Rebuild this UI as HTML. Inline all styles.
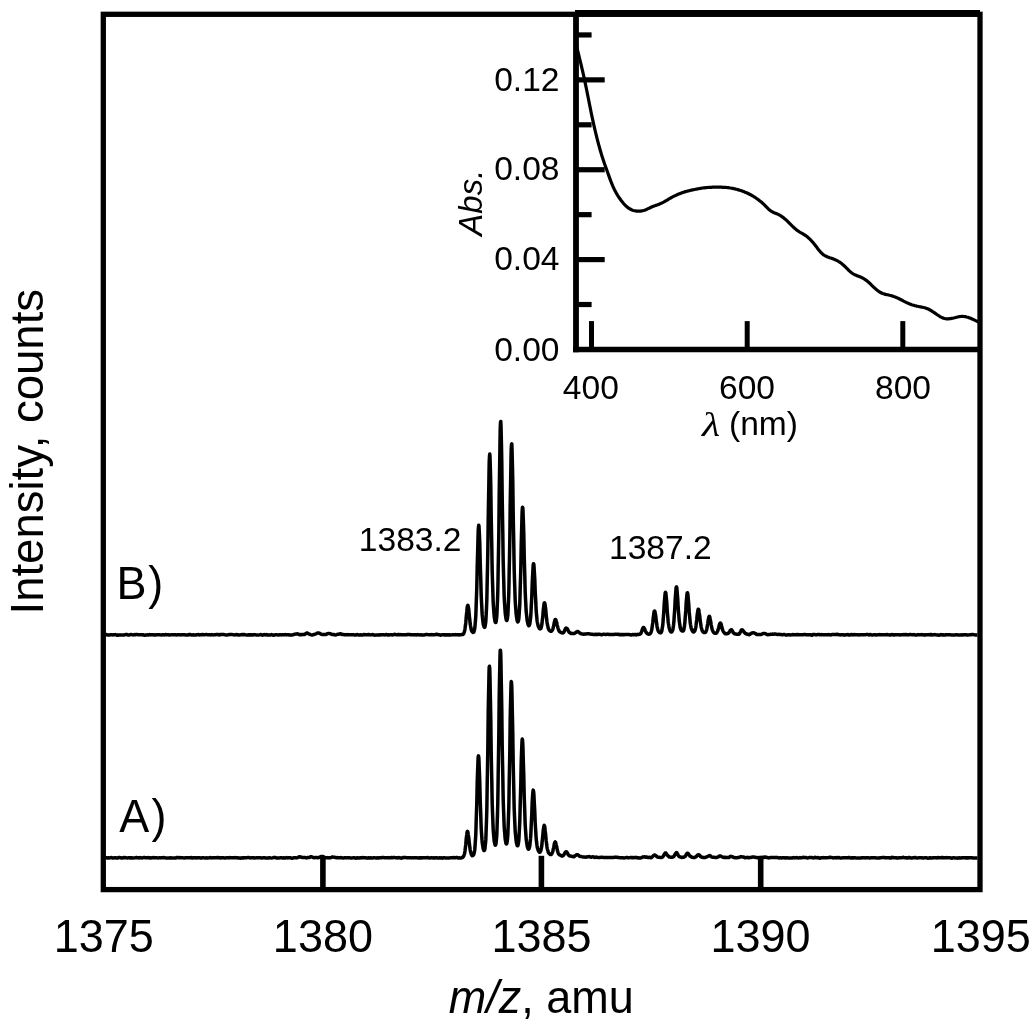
<!DOCTYPE html>
<html lang="en">
<head>
<meta charset="utf-8">
<title>Mass spectrum with absorbance inset</title>
<style>
  html, body { margin: 0; padding: 0; background: #ffffff; }
  body { width: 1035px; height: 1028px; overflow: hidden; }
  svg { display: block; }
  text { font-family: "Liberation Sans", sans-serif; fill: #000; }
  .big { font-size: 45px; }
  .mid { font-size: 33.6px; }
  .abs { font-size: 33px; }
  .it { font-style: italic; }
  .lam { font-family: "Liberation Serif", "DejaVu Serif", serif; font-style: italic; font-size: 36px; }
</style>
</head>
<body>
<svg width="1035" height="1028" viewBox="0 0 1035 1028">
  <rect x="0" y="0" width="1035" height="1028" fill="#ffffff"/>

  <!-- main frame -->
  <g fill="none" stroke="#000" stroke-linecap="butt" stroke-linejoin="miter">
    <rect x="103.3" y="14.3" width="876.7" height="875.3" stroke-width="5.3"/>
    <!-- thicker top edge above inset -->
    <line x1="575" y1="13.2" x2="980" y2="13.2" stroke-width="6.6"/>
    <!-- inset axes -->
    <line x1="576" y1="12" x2="576" y2="352.2" stroke-width="5.8"/>
    <line x1="573.1" y1="349.45" x2="980" y2="349.45" stroke-width="5.5"/>
  </g>

  <!-- inset ticks -->
  <g fill="none" stroke="#000" stroke-width="5.2" stroke-linecap="butt">
    <line x1="576" y1="304.52" x2="591.6" y2="304.52"/>
    <line x1="576" y1="259.59" x2="604.7" y2="259.59"/>
    <line x1="576" y1="214.66" x2="591.6" y2="214.66"/>
    <line x1="576" y1="169.73" x2="604.7" y2="169.73"/>
    <line x1="576" y1="124.80" x2="591.6" y2="124.80"/>
    <line x1="576" y1="79.87" x2="604.7" y2="79.87"/>
    <line x1="576" y1="34.94" x2="591.6" y2="34.94"/>
  </g>
  <g fill="none" stroke="#000" stroke-width="5" stroke-linecap="butt">
    <line x1="591.5" y1="349" x2="591.5" y2="321.1"/>
    <line x1="747.2" y1="349" x2="747.2" y2="321.1"/>
    <line x1="902.8" y1="349" x2="902.8" y2="321.1"/>
  </g>

  <!-- main x ticks -->
  <g fill="none" stroke="#000" stroke-width="5.6" stroke-linecap="butt">
    <line x1="322.9" y1="889" x2="322.9" y2="855.8"/>
    <line x1="541.4" y1="889" x2="541.4" y2="855.8"/>
    <line x1="760.7" y1="889" x2="760.7" y2="855.8"/>
  </g>

  <!-- inset absorbance curve -->
  <path d="M575.6,42.0 L576.6,46.3 L577.6,50.4 L578.6,54.5 L579.6,58.6 L580.6,62.7 L581.6,66.9 L582.6,71.1 L583.6,75.5 L584.6,80.1 L585.6,84.8 L586.6,89.7 L587.6,94.7 L588.6,99.8 L589.6,104.8 L590.6,109.8 L591.6,114.7 L592.6,119.4 L593.6,123.9 L594.6,128.3 L595.6,132.5 L596.6,136.6 L597.6,140.6 L598.6,144.4 L599.6,148.0 L600.6,151.5 L601.6,154.9 L602.6,158.1 L603.6,161.1 L604.6,164.0 L605.6,166.8 L606.6,169.5 L607.6,172.3 L608.6,175.1 L609.6,177.9 L610.6,180.6 L611.6,183.2 L612.6,185.6 L613.6,187.8 L614.6,189.9 L615.6,191.8 L616.6,193.6 L617.6,195.3 L618.6,196.8 L619.6,198.3 L620.6,199.7 L621.6,201.1 L622.6,202.3 L623.6,203.5 L624.6,204.6 L625.6,205.6 L626.6,206.6 L627.6,207.4 L628.6,208.1 L629.6,208.8 L630.6,209.3 L631.6,209.8 L632.6,210.2 L633.6,210.5 L634.6,210.7 L635.6,210.9 L636.6,211.1 L637.6,211.1 L638.6,211.2 L639.6,211.2 L640.6,211.1 L641.6,210.9 L642.6,210.7 L643.6,210.5 L644.6,210.2 L645.6,209.8 L646.6,209.4 L647.6,208.9 L648.6,208.4 L649.6,208.0 L650.6,207.5 L651.6,207.0 L652.6,206.6 L653.6,206.2 L654.6,205.8 L655.6,205.5 L656.6,205.1 L657.6,204.8 L658.6,204.4 L659.6,204.0 L660.6,203.6 L661.6,203.1 L662.6,202.6 L663.6,202.1 L664.6,201.5 L665.6,201.0 L666.6,200.4 L667.6,199.8 L668.6,199.2 L669.6,198.6 L670.6,198.0 L671.6,197.5 L672.6,196.9 L673.6,196.4 L674.6,195.9 L675.6,195.4 L676.6,195.0 L677.6,194.5 L678.6,194.1 L679.6,193.7 L680.6,193.3 L681.6,192.9 L682.6,192.6 L683.6,192.2 L684.6,191.9 L685.6,191.6 L686.6,191.3 L687.6,191.1 L688.6,190.8 L689.6,190.6 L690.6,190.3 L691.6,190.1 L692.6,189.9 L693.6,189.7 L694.6,189.5 L695.6,189.3 L696.6,189.1 L697.6,188.9 L698.6,188.7 L699.6,188.5 L700.6,188.3 L701.6,188.2 L702.6,188.0 L703.6,187.9 L704.6,187.8 L705.6,187.7 L706.6,187.6 L707.6,187.5 L708.6,187.4 L709.6,187.4 L710.6,187.3 L711.6,187.3 L712.6,187.2 L713.6,187.2 L714.6,187.2 L715.6,187.2 L716.6,187.2 L717.6,187.2 L718.6,187.2 L719.6,187.2 L720.6,187.2 L721.6,187.2 L722.6,187.3 L723.6,187.3 L724.6,187.4 L725.6,187.4 L726.6,187.5 L727.6,187.6 L728.6,187.7 L729.6,187.9 L730.6,188.0 L731.6,188.2 L732.6,188.4 L733.6,188.6 L734.6,188.8 L735.6,189.1 L736.6,189.3 L737.6,189.6 L738.6,189.9 L739.6,190.2 L740.6,190.5 L741.6,190.8 L742.6,191.2 L743.6,191.6 L744.6,192.0 L745.6,192.4 L746.6,192.8 L747.6,193.3 L748.6,193.8 L749.6,194.3 L750.6,194.8 L751.6,195.3 L752.6,195.9 L753.6,196.5 L754.6,197.1 L755.6,197.8 L756.6,198.5 L757.6,199.2 L758.6,199.9 L759.6,200.7 L760.6,201.5 L761.6,202.3 L762.6,203.2 L763.6,204.1 L764.6,205.1 L765.6,206.1 L766.6,207.2 L767.6,208.2 L768.6,209.2 L769.6,210.0 L770.6,210.8 L771.6,211.4 L772.6,212.0 L773.6,212.5 L774.6,212.9 L775.6,213.3 L776.6,213.7 L777.6,214.1 L778.6,214.6 L779.6,215.1 L780.6,215.7 L781.6,216.4 L782.6,217.1 L783.6,217.8 L784.6,218.7 L785.6,219.5 L786.6,220.4 L787.6,221.4 L788.6,222.4 L789.6,223.4 L790.6,224.4 L791.6,225.4 L792.6,226.4 L793.6,227.3 L794.6,228.2 L795.6,229.1 L796.6,229.9 L797.6,230.7 L798.6,231.3 L799.6,232.0 L800.6,232.6 L801.6,233.1 L802.6,233.7 L803.6,234.3 L804.6,234.9 L805.6,235.6 L806.6,236.3 L807.6,237.1 L808.6,238.0 L809.6,238.9 L810.6,239.9 L811.6,241.0 L812.6,242.1 L813.6,243.3 L814.6,244.5 L815.6,245.8 L816.6,247.1 L817.6,248.4 L818.6,249.7 L819.6,250.9 L820.6,252.1 L821.6,253.1 L822.6,254.1 L823.6,254.9 L824.6,255.5 L825.6,256.1 L826.6,256.5 L827.6,257.0 L828.6,257.3 L829.6,257.7 L830.6,258.0 L831.6,258.3 L832.6,258.7 L833.6,259.1 L834.6,259.5 L835.6,259.9 L836.6,260.4 L837.6,260.9 L838.6,261.5 L839.6,262.1 L840.6,262.8 L841.6,263.6 L842.6,264.4 L843.6,265.3 L844.6,266.2 L845.6,267.2 L846.6,268.2 L847.6,269.2 L848.6,270.2 L849.6,271.1 L850.6,272.0 L851.6,272.8 L852.6,273.5 L853.6,274.1 L854.6,274.6 L855.6,275.1 L856.6,275.5 L857.6,275.9 L858.6,276.3 L859.6,276.7 L860.6,277.1 L861.6,277.5 L862.6,278.0 L863.6,278.6 L864.6,279.2 L865.6,279.9 L866.6,280.6 L867.6,281.4 L868.6,282.3 L869.6,283.2 L870.6,284.2 L871.6,285.2 L872.6,286.1 L873.6,287.1 L874.6,288.0 L875.6,288.9 L876.6,289.8 L877.6,290.6 L878.6,291.3 L879.6,292.0 L880.6,292.5 L881.6,293.0 L882.6,293.5 L883.6,293.8 L884.6,294.1 L885.6,294.4 L886.6,294.6 L887.6,294.8 L888.6,295.0 L889.6,295.3 L890.6,295.5 L891.6,295.8 L892.6,296.1 L893.6,296.5 L894.6,296.8 L895.6,297.2 L896.6,297.6 L897.6,298.1 L898.6,298.5 L899.6,299.0 L900.6,299.5 L901.6,300.0 L902.6,300.5 L903.6,301.1 L904.6,301.6 L905.6,302.1 L906.6,302.6 L907.6,303.1 L908.6,303.5 L909.6,303.9 L910.6,304.3 L911.6,304.7 L912.6,305.0 L913.6,305.3 L914.6,305.6 L915.6,305.8 L916.6,306.1 L917.6,306.3 L918.6,306.5 L919.6,306.7 L920.6,306.9 L921.6,307.1 L922.6,307.3 L923.6,307.5 L924.6,307.7 L925.6,308.0 L926.6,308.4 L927.6,308.8 L928.6,309.2 L929.6,309.8 L930.6,310.3 L931.6,310.9 L932.6,311.6 L933.6,312.2 L934.6,312.9 L935.6,313.6 L936.6,314.3 L937.6,315.0 L938.6,315.6 L939.6,316.3 L940.6,316.9 L941.6,317.4 L942.6,317.9 L943.6,318.2 L944.6,318.5 L945.6,318.7 L946.6,318.8 L947.6,318.9 L948.6,318.8 L949.6,318.7 L950.6,318.6 L951.6,318.4 L952.6,318.2 L953.6,318.0 L954.6,317.7 L955.6,317.5 L956.6,317.2 L957.6,317.0 L958.6,316.8 L959.6,316.6 L960.6,316.5 L961.6,316.4 L962.6,316.4 L963.6,316.5 L964.6,316.6 L965.6,316.7 L966.6,317.0 L967.6,317.2 L968.6,317.6 L969.6,317.9 L970.6,318.3 L971.6,318.7 L972.6,319.2 L973.6,319.6 L974.6,320.1 L975.6,320.6 L976.6,321.1 L977.6,321.6 L978.6,322.1" fill="none" stroke="#000" stroke-width="3.2" stroke-linejoin="round" stroke-linecap="butt"/>

  <!-- spectrum B -->
  <path d="M105.5,634.7 L106.5,634.5 L107.5,634.9 L108.5,635.0 L109.5,635.0 L110.5,634.8 L111.5,634.7 L112.5,634.9 L113.5,634.8 L114.5,634.8 L115.5,634.6 L116.5,635.0 L117.5,635.3 L118.5,635.0 L119.5,634.9 L120.5,634.9 L121.5,635.1 L122.5,635.0 L123.5,635.0 L124.5,634.9 L125.5,634.5 L126.5,634.5 L127.5,634.8 L128.5,635.1 L129.5,635.0 L130.5,634.6 L131.5,634.6 L132.5,634.8 L133.5,634.9 L134.5,634.6 L135.5,634.7 L136.5,634.5 L137.5,634.6 L138.5,634.8 L139.5,634.8 L140.5,634.8 L141.5,634.8 L142.5,634.7 L143.5,635.1 L144.5,635.2 L145.5,635.0 L146.5,634.9 L147.5,634.8 L148.5,634.9 L149.5,634.5 L150.5,634.9 L151.5,634.7 L152.5,634.7 L153.5,634.9 L154.5,634.8 L155.5,634.9 L156.5,634.8 L157.5,634.7 L158.5,634.7 L159.5,634.7 L160.5,634.9 L161.5,635.1 L162.5,634.8 L163.5,634.8 L164.5,634.9 L165.5,634.5 L166.5,634.7 L167.5,634.8 L168.5,634.8 L169.5,635.1 L170.5,634.9 L171.5,634.7 L172.5,634.7 L173.5,634.7 L174.5,634.7 L175.5,634.8 L176.5,634.9 L177.5,634.8 L178.5,634.8 L179.5,634.7 L180.5,634.9 L181.5,634.8 L182.5,634.7 L183.5,634.8 L184.5,634.8 L185.5,634.9 L186.5,634.9 L187.5,635.1 L188.5,634.8 L189.5,634.5 L190.5,634.6 L191.5,635.0 L192.5,635.1 L193.5,634.8 L194.5,634.9 L195.5,635.1 L196.5,634.8 L197.5,634.7 L198.5,634.5 L199.5,634.9 L200.5,634.8 L201.5,634.7 L202.5,634.5 L203.5,634.7 L204.5,634.8 L205.5,634.6 L206.5,634.6 L207.5,634.7 L208.5,634.7 L209.5,634.8 L210.5,634.9 L211.5,634.6 L212.5,634.8 L213.5,634.9 L214.5,634.7 L215.5,634.7 L216.5,634.5 L217.5,634.5 L218.5,634.8 L219.5,634.9 L220.5,634.4 L221.5,634.5 L222.5,634.4 L223.5,634.4 L224.5,634.6 L225.5,635.0 L226.5,634.9 L227.5,634.9 L228.5,634.7 L229.5,634.5 L230.5,634.6 L231.5,634.6 L232.5,634.6 L233.5,634.8 L234.5,634.9 L235.5,634.7 L236.5,634.6 L237.5,634.7 L238.5,635.0 L239.5,634.9 L240.5,634.8 L241.5,634.7 L242.5,634.4 L243.5,634.7 L244.5,634.5 L245.5,634.9 L246.5,635.1 L247.5,635.1 L248.5,634.8 L249.5,634.7 L250.5,635.0 L251.5,634.8 L252.5,635.0 L253.5,634.8 L254.5,634.6 L255.5,634.8 L256.5,634.9 L257.5,635.1 L258.5,635.1 L259.5,634.9 L260.5,634.6 L261.5,634.7 L262.5,635.2 L263.5,634.7 L264.5,634.6 L265.5,634.9 L266.5,634.6 L267.5,635.1 L268.5,634.9 L269.5,634.9 L270.5,635.0 L271.5,634.5 L272.5,634.9 L273.5,635.2 L274.5,634.9 L275.5,634.8 L276.5,634.7 L277.5,634.9 L278.5,635.1 L279.5,634.8 L280.5,634.7 L281.5,634.9 L282.5,634.8 L283.5,634.7 L284.5,634.7 L285.5,634.6 L286.5,634.8 L287.5,634.8 L288.5,634.7 L289.5,635.1 L290.5,635.0 L291.5,635.0 L292.5,635.0 L293.5,634.6 L294.5,634.3 L295.5,634.1 L296.5,634.1 L297.5,633.8 L298.5,634.2 L299.5,634.7 L300.5,634.5 L301.5,634.7 L302.5,634.5 L303.5,634.5 L304.5,634.5 L305.5,633.8 L306.5,633.0 L307.5,633.1 L308.5,633.8 L309.5,634.2 L310.5,634.6 L311.5,634.9 L312.5,635.0 L313.5,634.5 L314.5,634.4 L315.5,634.0 L316.5,633.6 L317.5,633.0 L318.5,633.0 L319.5,633.2 L320.5,633.9 L321.5,634.3 L322.5,634.6 L323.5,634.6 L324.5,634.5 L325.5,634.5 L326.5,634.2 L327.5,633.6 L328.5,633.4 L329.5,633.6 L330.5,633.7 L331.5,634.4 L332.5,634.6 L333.5,634.5 L334.5,634.8 L335.5,634.9 L336.5,634.8 L337.5,634.3 L338.5,634.2 L339.5,634.0 L340.5,633.8 L341.5,634.1 L342.5,634.6 L343.5,634.5 L344.5,634.7 L345.5,634.7 L346.5,634.7 L347.5,634.6 L348.5,634.8 L349.5,634.8 L350.5,634.7 L351.5,634.8 L352.5,634.7 L353.5,634.8 L354.5,634.9 L355.5,635.0 L356.5,634.7 L357.5,634.6 L358.5,635.0 L359.5,635.0 L360.5,634.8 L361.5,634.9 L362.5,635.0 L363.5,634.5 L364.5,634.8 L365.5,634.6 L366.5,634.8 L367.5,634.8 L368.5,634.4 L369.5,634.7 L370.5,634.9 L371.5,634.7 L372.5,634.6 L373.5,634.8 L374.5,635.2 L375.5,635.1 L376.5,634.9 L377.5,634.9 L378.5,635.1 L379.5,634.8 L380.5,634.9 L381.5,634.7 L382.5,634.8 L383.5,634.7 L384.5,634.9 L385.5,634.8 L386.5,634.5 L387.5,634.9 L388.5,634.8 L389.5,634.9 L390.5,634.7 L391.5,634.8 L392.5,634.9 L393.5,634.7 L394.5,634.2 L395.5,634.6 L396.5,634.8 L397.5,634.8 L398.5,634.5 L399.5,634.7 L400.5,634.6 L401.5,634.8 L402.5,634.8 L403.5,634.7 L404.5,634.9 L405.5,634.7 L406.5,634.8 L407.5,634.5 L408.5,634.5 L409.5,634.5 L410.5,634.8 L411.5,634.8 L412.5,634.7 L413.5,634.9 L414.5,634.7 L415.5,634.8 L416.5,634.9 L417.5,634.6 L418.5,634.8 L419.5,634.9 L420.5,634.7 L421.5,635.0 L422.5,635.0 L423.5,634.9 L424.5,634.9 L425.5,634.6 L426.5,634.6 L427.5,634.6 L428.5,634.8 L429.5,634.8 L430.5,634.8 L431.5,634.6 L432.5,634.7 L433.5,634.8 L434.5,634.8 L435.5,634.6 L436.5,634.2 L437.5,634.6 L438.5,634.7 L439.5,634.8 L440.5,635.2 L441.5,634.9 L442.5,634.7 L443.5,634.8 L444.5,635.0 L445.5,634.7 L446.5,635.1 L447.5,634.8 L448.5,635.0 L449.5,634.8 L450.5,635.1 L451.5,634.9 L452.5,634.7 L453.5,634.7 L454.5,634.7 L455.0,634.7 L455.2,634.7 L455.5,634.6 L455.8,634.7 L456.0,634.7 L456.2,634.8 L456.5,634.8 L456.8,634.8 L457.0,634.8 L457.2,634.8 L457.5,634.8 L457.8,634.7 L458.0,634.7 L458.2,634.7 L458.5,634.7 L458.8,634.8 L459.0,634.8 L459.2,634.9 L459.5,634.9 L459.8,634.8 L460.0,634.8 L460.2,634.7 L460.5,634.7 L460.8,634.7 L461.0,634.7 L461.2,634.7 L461.5,634.6 L461.8,634.6 L462.0,634.6 L462.2,634.6 L462.5,634.6 L462.8,634.5 L463.0,634.4 L463.2,634.2 L463.5,633.8 L463.8,633.4 L464.0,632.9 L464.2,632.2 L464.5,631.3 L464.8,630.2 L465.0,628.8 L465.2,627.1 L465.5,625.1 L465.8,622.7 L466.0,620.2 L466.2,617.3 L466.5,614.5 L466.8,611.7 L467.0,609.2 L467.2,607.2 L467.5,605.8 L467.8,605.3 L468.0,605.5 L468.2,606.4 L468.5,607.9 L468.8,609.9 L469.0,612.3 L469.2,614.8 L469.5,617.4 L469.8,619.8 L470.0,622.0 L470.2,623.9 L470.5,625.6 L470.8,627.1 L471.0,628.4 L471.2,629.5 L471.5,630.5 L471.8,631.1 L472.0,631.5 L472.2,631.8 L472.5,632.1 L472.8,632.3 L473.0,632.4 L473.2,632.4 L473.5,632.3 L473.8,632.0 L474.0,631.5 L474.2,630.7 L474.5,629.7 L474.8,628.1 L475.0,626.1 L475.2,623.5 L475.5,620.1 L475.8,615.8 L476.0,610.4 L476.2,603.9 L476.5,596.1 L476.8,587.2 L477.0,577.4 L477.2,567.0 L477.5,556.6 L477.8,546.6 L478.0,537.9 L478.2,531.1 L478.5,526.7 L478.8,525.2 L479.0,526.4 L479.2,530.1 L479.5,536.1 L479.8,543.8 L480.0,552.7 L480.2,562.1 L480.5,571.5 L480.8,580.4 L481.0,588.5 L481.2,595.6 L481.5,601.8 L481.8,607.0 L482.0,611.3 L482.2,614.9 L482.5,617.9 L482.8,620.3 L483.0,622.3 L483.2,623.8 L483.5,625.1 L483.8,626.0 L484.0,626.7 L484.2,627.2 L484.5,627.4 L484.8,627.2 L485.0,626.6 L485.2,625.4 L485.5,623.7 L485.8,621.4 L486.0,618.1 L486.2,613.8 L486.5,608.1 L486.8,600.8 L487.0,591.7 L487.2,580.6 L487.5,567.6 L487.8,552.8 L488.0,536.5 L488.2,519.5 L488.5,502.5 L488.8,486.6 L489.0,472.9 L489.2,462.4 L489.5,456.0 L489.8,454.1 L490.0,456.7 L490.2,463.3 L490.5,473.5 L490.8,486.5 L491.0,501.2 L491.2,516.7 L491.5,532.1 L491.8,546.6 L492.0,559.9 L492.2,571.5 L492.5,581.5 L492.8,589.9 L493.0,596.8 L493.2,602.5 L493.5,607.1 L493.8,610.8 L494.0,613.9 L494.2,616.4 L494.5,618.4 L494.8,620.1 L495.0,621.3 L495.2,622.1 L495.5,622.5 L495.8,622.5 L496.0,622.0 L496.2,620.9 L496.5,619.1 L496.8,616.4 L497.0,612.5 L497.2,607.3 L497.5,600.4 L497.8,591.6 L498.0,580.7 L498.2,567.4 L498.5,551.8 L498.8,534.1 L499.0,514.8 L499.2,494.7 L499.5,474.8 L499.8,456.5 L500.0,440.9 L500.2,429.4 L500.5,422.7 L500.8,421.5 L501.0,425.5 L501.2,434.2 L501.5,446.8 L501.8,462.3 L502.0,479.7 L502.2,497.8 L502.5,515.7 L502.8,532.6 L503.0,547.9 L503.2,561.4 L503.5,572.9 L503.8,582.6 L504.0,590.6 L504.2,597.1 L504.5,602.4 L504.8,606.6 L505.0,610.0 L505.2,612.9 L505.5,615.3 L505.8,617.2 L506.0,618.6 L506.2,619.7 L506.5,620.3 L506.8,620.5 L507.0,620.3 L507.2,619.4 L507.5,617.9 L507.8,615.4 L508.0,612.0 L508.2,607.2 L508.5,601.0 L508.8,592.9 L509.0,582.9 L509.2,570.7 L509.5,556.5 L509.8,540.5 L510.0,523.1 L510.2,505.3 L510.5,487.9 L510.8,472.2 L511.0,459.0 L511.2,449.4 L511.5,444.3 L511.8,443.9 L512.0,448.1 L512.2,456.4 L512.5,468.1 L512.8,482.3 L513.0,498.0 L513.2,514.2 L513.5,530.1 L513.8,545.0 L514.0,558.4 L514.2,570.0 L514.5,579.9 L514.8,588.1 L515.0,595.0 L515.2,600.6 L515.5,605.2 L515.8,609.0 L516.0,612.0 L516.2,614.6 L516.5,616.7 L516.8,618.5 L517.0,619.9 L517.2,620.9 L517.5,621.6 L517.8,621.9 L518.0,621.8 L518.2,621.4 L518.5,620.5 L518.8,618.9 L519.0,616.7 L519.2,613.4 L519.5,609.1 L519.8,603.6 L520.0,596.7 L520.2,588.6 L520.5,579.2 L520.8,568.6 L521.0,557.3 L521.2,545.7 L521.5,534.4 L521.8,524.2 L522.0,515.9 L522.2,510.1 L522.5,507.3 L522.8,507.7 L523.0,510.9 L523.2,516.8 L523.5,524.9 L523.8,534.4 L524.0,544.9 L524.2,555.6 L524.5,566.0 L524.8,575.7 L525.0,584.5 L525.2,592.0 L525.5,598.5 L525.8,603.7 L526.0,608.0 L526.2,611.6 L526.5,614.4 L526.8,616.9 L527.0,618.9 L527.2,620.7 L527.5,622.1 L527.8,623.3 L528.0,624.2 L528.2,624.9 L528.5,625.4 L528.8,625.7 L529.0,625.7 L529.2,625.4 L529.5,624.8 L529.8,623.9 L530.0,622.6 L530.2,620.8 L530.5,618.5 L530.8,615.5 L531.0,611.7 L531.2,607.2 L531.5,601.9 L531.8,596.2 L532.0,590.1 L532.2,583.9 L532.5,577.9 L532.8,572.4 L533.0,568.0 L533.2,565.0 L533.5,563.7 L533.8,564.2 L534.0,566.2 L534.2,569.7 L534.5,574.3 L534.8,579.6 L535.0,585.3 L535.2,591.1 L535.5,596.8 L535.8,602.1 L536.0,606.8 L536.2,611.0 L536.5,614.5 L536.8,617.3 L537.0,619.7 L537.2,621.5 L537.5,622.9 L537.8,624.1 L538.0,625.1 L538.2,626.0 L538.5,626.7 L538.8,627.3 L539.0,627.8 L539.2,628.2 L539.5,628.5 L539.8,628.7 L540.0,628.8 L540.2,628.9 L540.5,628.7 L540.8,628.5 L541.0,628.0 L541.2,627.3 L541.5,626.3 L541.8,624.9 L542.0,623.2 L542.2,621.2 L542.5,618.9 L542.8,616.3 L543.0,613.5 L543.2,610.7 L543.5,608.1 L543.8,605.9 L544.0,604.2 L544.2,603.1 L544.5,602.8 L544.8,603.2 L545.0,604.2 L545.2,605.7 L545.5,607.7 L545.8,610.2 L546.0,612.7 L546.2,615.3 L546.5,617.8 L546.8,620.0 L547.0,622.0 L547.2,623.6 L547.5,625.0 L547.8,626.2 L548.0,627.2 L548.2,628.1 L548.5,628.9 L548.8,629.5 L549.0,629.9 L549.2,630.2 L549.5,630.5 L549.8,630.7 L550.0,630.9 L550.2,631.1 L550.5,631.2 L550.8,631.3 L551.0,631.3 L551.2,631.3 L551.5,631.1 L551.8,630.9 L552.0,630.6 L552.2,630.3 L552.5,629.8 L552.8,629.2 L553.0,628.5 L553.2,627.6 L553.5,626.6 L553.8,625.4 L554.0,624.1 L554.2,622.8 L554.5,621.6 L554.8,620.6 L555.0,619.8 L555.2,619.5 L555.5,619.5 L555.8,619.7 L556.0,620.3 L556.2,621.0 L556.5,621.9 L556.8,622.9 L557.0,624.0 L557.2,625.1 L557.5,626.2 L557.8,627.2 L558.0,628.1 L558.2,628.9 L558.5,629.6 L558.8,630.3 L559.0,630.8 L559.2,631.1 L559.5,631.5 L559.8,631.7 L560.0,631.9 L560.2,632.1 L560.5,632.2 L560.8,632.3 L561.0,632.5 L561.2,632.6 L561.5,632.7 L561.8,632.7 L562.0,632.8 L562.2,632.8 L562.5,632.9 L562.8,632.9 L563.0,632.8 L563.2,632.7 L563.5,632.5 L563.8,632.3 L564.0,631.9 L564.2,631.4 L564.5,630.9 L564.8,630.2 L565.0,629.6 L565.2,629.1 L565.5,628.6 L565.8,628.3 L566.0,628.1 L566.2,628.1 L566.5,628.2 L566.8,628.3 L567.0,628.5 L567.2,628.8 L567.5,629.1 L567.8,629.6 L568.0,630.1 L568.2,630.7 L568.5,631.2 L568.8,631.7 L569.0,632.1 L569.2,632.3 L569.5,632.5 L569.8,632.6 L570.0,632.7 L570.2,632.9 L570.5,633.0 L570.8,633.2 L571.0,633.3 L571.2,633.5 L571.5,633.6 L571.8,633.6 L572.0,633.6 L572.2,633.6 L572.5,633.5 L572.8,633.5 L573.0,633.5 L573.2,633.5 L573.5,633.6 L573.8,633.6 L574.0,633.6 L574.2,633.5 L574.5,633.4 L574.8,633.2 L575.0,633.0 L575.2,632.8 L575.5,632.7 L575.8,632.5 L576.0,632.4 L576.2,632.2 L576.5,632.0 L576.8,631.8 L577.0,631.7 L577.2,631.6 L577.5,631.6 L577.8,631.6 L578.0,631.6 L578.2,631.7 L578.5,631.9 L578.8,632.2 L579.0,632.4 L579.2,632.6 L579.5,632.8 L579.8,633.0 L580.0,633.1 L580.2,633.3 L580.5,633.5 L580.8,633.6 L581.0,633.7 L581.2,633.8 L581.5,633.8 L581.8,633.9 L582.0,633.9 L582.2,633.9 L582.5,633.9 L582.8,634.0 L583.0,634.1 L583.2,634.2 L583.5,634.3 L583.8,634.3 L584.0,634.3 L584.2,634.2 L584.5,634.1 L584.8,634.1 L585.0,634.0 L585.2,634.0 L585.5,634.0 L585.8,634.0 L586.0,634.0 L586.2,633.9 L586.5,633.9 L586.8,633.8 L587.0,633.7 L587.2,633.7 L587.5,633.7 L587.8,633.7 L588.0,633.8 L588.2,633.8 L588.5,633.8 L588.8,633.7 L589.0,633.7 L589.2,633.8 L589.5,633.9 L589.8,634.0 L590.0,634.1 L590.2,634.1 L590.5,634.1 L590.8,634.2 L591.0,634.2 L591.2,634.2 L591.5,634.3 L591.8,634.3 L592.0,634.3 L592.2,634.3 L592.5,634.2 L592.8,634.3 L593.0,634.3 L593.2,634.4 L593.5,634.4 L593.8,634.5 L594.0,634.5 L594.2,634.5 L594.5,634.5 L594.8,634.4 L595.0,634.3 L595.2,634.3 L595.5,634.2 L595.8,634.3 L596.0,634.4 L596.2,634.4 L596.5,634.4 L596.8,634.3 L597.0,634.3 L597.2,634.3 L597.5,634.4 L597.8,634.4 L598.0,634.3 L598.2,634.3 L598.5,634.2 L598.8,634.2 L599.0,634.2 L599.2,634.2 L599.5,634.3 L599.8,634.3 L600.0,634.3 L601.0,634.7 L602.0,634.8 L603.0,634.3 L604.0,634.2 L605.0,634.4 L606.0,634.5 L607.0,634.3 L608.0,634.3 L609.0,634.5 L610.0,634.6 L611.0,634.5 L612.0,634.4 L613.0,634.4 L614.0,634.4 L615.0,634.3 L616.0,634.2 L617.0,634.4 L618.0,634.2 L619.0,634.5 L620.0,634.8 L621.0,634.5 L622.0,634.7 L623.0,634.5 L624.0,634.7 L625.0,634.6 L626.0,634.6 L627.0,634.6 L628.0,634.6 L629.0,634.6 L630.0,634.7 L631.0,635.0 L632.0,634.8 L632.2,634.7 L632.5,634.6 L632.8,634.6 L633.0,634.6 L633.2,634.7 L633.5,634.8 L633.8,634.7 L634.0,634.7 L634.2,634.6 L634.5,634.5 L634.8,634.5 L635.0,634.5 L635.2,634.6 L635.5,634.6 L635.8,634.8 L636.0,634.9 L636.2,634.8 L636.5,634.8 L636.8,634.7 L637.0,634.5 L637.2,634.4 L637.5,634.3 L637.8,634.4 L638.0,634.4 L638.2,634.5 L638.5,634.5 L638.8,634.5 L639.0,634.4 L639.2,634.3 L639.5,634.2 L639.8,634.2 L640.0,634.1 L640.2,633.9 L640.5,633.8 L640.8,633.5 L641.0,633.1 L641.2,632.6 L641.5,631.9 L641.8,631.2 L642.0,630.4 L642.2,629.7 L642.5,629.0 L642.8,628.4 L643.0,628.0 L643.2,627.6 L643.5,627.5 L643.8,627.5 L644.0,627.7 L644.2,628.1 L644.5,628.6 L644.8,629.3 L645.0,629.9 L645.2,630.6 L645.5,631.2 L645.8,631.7 L646.0,632.1 L646.2,632.5 L646.5,632.7 L646.8,633.1 L647.0,633.4 L647.2,633.6 L647.5,633.7 L647.8,633.9 L648.0,634.0 L648.2,634.1 L648.5,634.2 L648.8,634.2 L649.0,634.2 L649.2,634.1 L649.5,634.0 L649.8,633.9 L650.0,633.7 L650.2,633.5 L650.5,633.2 L650.8,632.8 L651.0,632.3 L651.2,631.6 L651.5,630.7 L651.8,629.5 L652.0,628.1 L652.2,626.5 L652.5,624.6 L652.8,622.5 L653.0,620.4 L653.2,618.1 L653.5,616.0 L653.8,614.1 L654.0,612.5 L654.2,611.4 L654.5,611.0 L654.8,611.1 L655.0,611.9 L655.2,613.0 L655.5,614.6 L655.8,616.3 L656.0,618.3 L656.2,620.3 L656.5,622.3 L656.8,624.2 L657.0,626.0 L657.2,627.4 L657.5,628.6 L657.8,629.6 L658.0,630.3 L658.2,630.9 L658.5,631.4 L658.8,631.8 L659.0,632.1 L659.2,632.3 L659.5,632.5 L659.8,632.6 L660.0,632.7 L660.2,632.8 L660.5,632.9 L660.8,632.8 L661.0,632.7 L661.2,632.3 L661.5,631.7 L661.8,631.0 L662.0,629.9 L662.2,628.6 L662.5,626.9 L662.8,624.8 L663.0,622.3 L663.2,619.2 L663.5,615.7 L663.8,612.0 L664.0,608.0 L664.2,604.1 L664.5,600.4 L664.8,597.1 L665.0,594.6 L665.2,592.9 L665.5,592.3 L665.8,592.8 L666.0,594.3 L666.2,596.6 L666.5,599.6 L666.8,603.0 L667.0,606.7 L667.2,610.3 L667.5,613.8 L667.8,616.9 L668.0,619.7 L668.2,622.0 L668.5,624.0 L668.8,625.7 L669.0,627.0 L669.2,628.1 L669.5,629.0 L669.8,629.8 L670.0,630.5 L670.2,631.0 L670.5,631.4 L670.8,631.7 L671.0,631.9 L671.2,632.0 L671.5,632.0 L671.8,631.8 L672.0,631.6 L672.2,631.2 L672.5,630.7 L672.8,629.9 L673.0,628.8 L673.2,627.3 L673.5,625.3 L673.8,622.8 L674.0,619.8 L674.2,616.3 L674.5,612.3 L674.8,608.1 L675.0,603.7 L675.2,599.3 L675.5,595.2 L675.8,591.7 L676.0,589.0 L676.2,587.3 L676.5,586.9 L676.8,587.8 L677.0,589.7 L677.2,592.6 L677.5,596.1 L677.8,600.0 L678.0,604.0 L678.2,608.0 L678.5,611.8 L678.8,615.1 L679.0,618.1 L679.2,620.6 L679.5,622.7 L679.8,624.6 L680.0,626.1 L680.2,627.4 L680.5,628.4 L680.8,629.2 L681.0,629.8 L681.2,630.3 L681.5,630.6 L681.8,630.8 L682.0,630.9 L682.2,631.0 L682.5,631.0 L682.8,631.1 L683.0,631.1 L683.2,630.9 L683.5,630.6 L683.8,629.8 L684.0,628.8 L684.2,627.4 L684.5,625.6 L684.8,623.3 L685.0,620.6 L685.2,617.6 L685.5,614.1 L685.8,610.4 L686.0,606.5 L686.2,602.6 L686.5,599.1 L686.8,596.1 L687.0,594.0 L687.2,592.8 L687.5,592.7 L687.8,593.7 L688.0,595.7 L688.2,598.3 L688.5,601.5 L688.8,604.9 L689.0,608.4 L689.2,611.7 L689.5,614.8 L689.8,617.8 L690.0,620.3 L690.2,622.6 L690.5,624.5 L690.8,626.0 L691.0,627.3 L691.2,628.2 L691.5,629.0 L691.8,629.6 L692.0,630.2 L692.2,630.7 L692.5,631.2 L692.8,631.5 L693.0,631.8 L693.2,631.9 L693.5,632.0 L693.8,632.0 L694.0,631.9 L694.2,631.6 L694.5,631.3 L694.8,630.8 L695.0,630.3 L695.2,629.6 L695.5,628.6 L695.8,627.3 L696.0,625.7 L696.2,623.7 L696.5,621.5 L696.8,619.2 L697.0,616.9 L697.2,614.7 L697.5,612.7 L697.8,611.0 L698.0,609.8 L698.2,609.2 L698.5,609.3 L698.8,609.9 L699.0,611.1 L699.2,612.7 L699.5,614.6 L699.8,616.6 L700.0,618.7 L700.2,620.8 L700.5,622.6 L700.8,624.3 L701.0,625.8 L701.2,627.1 L701.5,628.2 L701.8,629.2 L702.0,630.0 L702.2,630.6 L702.5,631.2 L702.8,631.6 L703.0,631.9 L703.2,632.1 L703.5,632.2 L703.8,632.4 L704.0,632.5 L704.2,632.6 L704.5,632.6 L704.8,632.6 L705.0,632.5 L705.2,632.4 L705.5,632.2 L705.8,631.9 L706.0,631.5 L706.2,630.9 L706.5,630.2 L706.8,629.1 L707.0,627.9 L707.2,626.5 L707.5,624.9 L707.8,623.2 L708.0,621.6 L708.2,620.0 L708.5,618.6 L708.8,617.5 L709.0,616.7 L709.2,616.4 L709.5,616.5 L709.8,617.1 L710.0,617.9 L710.2,619.1 L710.5,620.5 L710.8,622.0 L711.0,623.6 L711.2,625.1 L711.5,626.4 L711.8,627.6 L712.0,628.6 L712.2,629.5 L712.5,630.2 L712.8,630.8 L713.0,631.4 L713.2,631.8 L713.5,632.2 L713.8,632.5 L714.0,632.8 L714.2,633.0 L714.5,633.1 L714.8,633.2 L715.0,633.2 L715.2,633.3 L715.5,633.3 L715.8,633.2 L716.0,633.2 L716.2,633.0 L716.5,632.9 L716.8,632.6 L717.0,632.4 L717.2,631.9 L717.5,631.4 L717.8,630.8 L718.0,630.1 L718.2,629.3 L718.5,628.4 L718.8,627.4 L719.0,626.4 L719.2,625.4 L719.5,624.5 L719.8,623.8 L720.0,623.3 L720.2,623.0 L720.5,623.0 L720.8,623.4 L721.0,623.9 L721.2,624.8 L721.5,625.8 L721.8,626.9 L722.0,628.0 L722.2,628.8 L722.5,629.6 L722.8,630.2 L723.0,630.8 L723.2,631.3 L723.5,631.7 L723.8,632.1 L724.0,632.4 L724.2,632.8 L724.5,633.1 L724.8,633.3 L725.0,633.6 L725.2,633.7 L725.5,633.8 L725.8,633.8 L726.0,633.8 L726.2,633.8 L726.5,633.7 L726.8,633.8 L727.0,633.8 L727.2,633.7 L727.5,633.6 L727.8,633.5 L728.0,633.3 L728.2,633.2 L728.5,633.0 L728.8,632.8 L729.0,632.5 L729.2,632.1 L729.5,631.7 L729.8,631.3 L730.0,630.8 L730.2,630.5 L730.5,630.2 L730.8,630.0 L731.0,629.8 L731.2,629.7 L731.5,629.7 L731.8,629.9 L732.0,630.2 L732.2,630.6 L732.5,631.1 L732.8,631.6 L733.0,632.2 L733.2,632.6 L733.5,632.9 L733.8,633.1 L734.0,633.3 L734.2,633.5 L734.5,633.6 L734.8,633.7 L735.0,633.8 L735.2,633.9 L735.5,633.9 L735.8,634.0 L736.0,634.1 L736.2,634.1 L736.5,634.2 L736.8,634.2 L737.0,634.2 L737.2,634.2 L737.5,634.2 L737.8,634.2 L738.0,634.2 L738.2,634.3 L738.5,634.3 L738.8,634.3 L739.0,634.2 L739.2,633.9 L739.5,633.6 L739.8,633.2 L740.0,632.8 L740.2,632.2 L740.5,631.6 L740.8,631.1 L741.0,630.5 L741.2,630.2 L741.5,629.9 L741.8,629.8 L742.0,629.8 L742.2,629.9 L742.5,630.1 L742.8,630.2 L743.0,630.5 L743.2,630.8 L743.5,631.2 L743.8,631.6 L744.0,632.0 L744.2,632.3 L744.5,632.5 L744.8,632.8 L745.0,633.0 L745.2,633.3 L745.5,633.5 L745.8,633.7 L746.0,633.7 L746.2,633.8 L746.5,633.8 L746.8,634.0 L747.0,634.1 L747.2,634.2 L747.5,634.2 L747.8,634.3 L748.0,634.3 L748.2,634.5 L748.5,634.6 L748.8,634.7 L749.0,634.7 L749.2,634.7 L749.5,634.5 L749.8,634.4 L750.0,634.2 L750.2,634.0 L750.5,633.9 L750.8,633.7 L751.0,633.6 L751.2,633.4 L751.5,633.2 L751.8,633.1 L752.0,633.0 L752.2,632.9 L752.5,632.9 L752.8,632.8 L753.0,632.7 L753.2,632.7 L753.5,632.7 L753.8,632.8 L754.0,632.9 L754.2,633.1 L754.5,633.2 L754.8,633.3 L755.0,633.3 L755.2,633.4 L755.5,633.5 L755.8,633.7 L756.0,633.9 L756.2,634.2 L756.5,634.4 L756.8,634.5 L757.0,634.6 L757.2,634.5 L757.5,634.5 L757.8,634.5 L758.0,634.5 L758.2,634.5 L758.5,634.6 L758.8,634.5 L759.0,634.5 L759.2,634.5 L759.5,634.5 L759.8,634.5 L760.0,634.5 L760.2,634.5 L760.5,634.5 L760.8,634.5 L761.0,634.5 L761.2,634.4 L761.5,634.3 L761.8,634.2 L762.0,634.1 L762.2,634.0 L762.5,633.8 L762.8,633.7 L763.0,633.6 L763.2,633.6 L763.5,633.5 L763.8,633.5 L764.0,633.4 L764.2,633.4 L764.5,633.4 L764.8,633.5 L765.0,633.6 L765.2,633.6 L765.5,633.7 L765.8,633.8 L766.0,633.9 L766.2,634.0 L766.5,634.2 L766.8,634.3 L767.0,634.5 L767.2,634.6 L767.5,634.7 L767.8,634.7 L768.0,634.7 L768.2,634.7 L768.5,634.6 L768.8,634.6 L769.0,634.6 L769.2,634.6 L769.5,634.6 L769.8,634.6 L770.0,634.5 L770.2,634.4 L770.5,634.3 L770.8,634.2 L771.0,634.2 L771.2,634.2 L771.5,634.2 L771.8,634.2 L772.0,634.2 L772.2,634.2 L772.5,634.1 L772.8,634.1 L773.0,634.2 L773.2,634.2 L773.5,634.3 L773.8,634.2 L774.0,634.2 L774.2,634.1 L774.5,634.0 L774.8,634.0 L775.0,633.9 L775.2,634.0 L775.5,634.1 L775.8,634.2 L776.0,634.2 L776.2,634.2 L776.5,634.2 L776.8,634.3 L777.0,634.3 L777.2,634.4 L777.5,634.5 L777.8,634.5 L778.0,634.5 L778.2,634.4 L778.5,634.3 L778.8,634.3 L779.0,634.3 L779.2,634.3 L779.5,634.4 L779.8,634.4 L780.0,634.4 L780.2,634.5 L780.5,634.5 L780.8,634.5 L781.0,634.6 L781.2,634.6 L781.5,634.7 L781.8,634.7 L782.0,634.7 L782.2,634.7 L782.5,634.7 L782.8,634.7 L783.0,634.6 L783.2,634.5 L783.5,634.5 L783.8,634.5 L784.0,634.5 L784.2,634.5 L784.5,634.6 L784.8,634.6 L785.0,634.7 L785.2,634.8 L785.5,634.9 L785.8,635.0 L786.0,635.1 L786.2,635.1 L786.5,635.1 L786.8,635.0 L787.0,635.0 L787.2,634.9 L787.5,634.9 L787.8,634.8 L788.0,634.7 L788.2,634.7 L788.5,634.7 L788.8,634.7 L789.0,634.8 L789.2,634.8 L789.5,634.8 L789.8,634.9 L790.0,634.9 L791.0,634.9 L792.0,634.7 L793.0,634.6 L794.0,634.7 L795.0,634.8 L796.0,634.6 L797.0,634.7 L798.0,634.6 L799.0,634.7 L800.0,634.8 L801.0,634.7 L802.0,634.7 L803.0,634.7 L804.0,634.6 L805.0,634.5 L806.0,634.7 L807.0,634.7 L808.0,634.9 L809.0,634.7 L810.0,634.7 L811.0,635.1 L812.0,635.2 L813.0,634.5 L814.0,634.6 L815.0,634.6 L816.0,634.9 L817.0,634.7 L818.0,634.5 L819.0,634.4 L820.0,634.7 L821.0,634.7 L822.0,634.6 L823.0,634.8 L824.0,634.8 L825.0,634.7 L826.0,634.8 L827.0,634.8 L828.0,634.6 L829.0,634.7 L830.0,634.8 L831.0,635.0 L832.0,634.6 L833.0,634.6 L834.0,634.6 L835.0,634.5 L836.0,634.4 L837.0,634.3 L838.0,634.5 L839.0,634.7 L840.0,634.9 L841.0,634.8 L842.0,634.7 L843.0,634.7 L844.0,635.0 L845.0,635.0 L846.0,634.8 L847.0,634.7 L848.0,634.6 L849.0,635.1 L850.0,635.0 L851.0,634.6 L852.0,634.6 L853.0,634.9 L854.0,634.5 L855.0,634.8 L856.0,634.7 L857.0,634.7 L858.0,634.8 L859.0,634.9 L860.0,634.8 L861.0,634.7 L862.0,634.7 L863.0,634.8 L864.0,634.8 L865.0,634.8 L866.0,634.6 L867.0,634.6 L868.0,634.5 L869.0,635.0 L870.0,634.5 L871.0,634.8 L872.0,634.9 L873.0,634.9 L874.0,634.7 L875.0,634.7 L876.0,635.1 L877.0,634.9 L878.0,634.7 L879.0,634.7 L880.0,634.6 L881.0,634.8 L882.0,634.8 L883.0,634.7 L884.0,634.7 L885.0,634.7 L886.0,634.7 L887.0,634.6 L888.0,634.7 L889.0,634.9 L890.0,635.0 L891.0,634.7 L892.0,634.6 L893.0,634.7 L894.0,635.0 L895.0,634.8 L896.0,634.8 L897.0,634.7 L898.0,634.7 L899.0,634.8 L900.0,634.9 L901.0,634.8 L902.0,634.8 L903.0,634.7 L904.0,634.6 L905.0,634.7 L906.0,634.6 L907.0,634.7 L908.0,634.9 L909.0,634.7 L910.0,634.5 L911.0,634.6 L912.0,634.8 L913.0,634.7 L914.0,634.6 L915.0,634.9 L916.0,634.9 L917.0,635.0 L918.0,634.6 L919.0,634.8 L920.0,634.8 L921.0,634.7 L922.0,634.6 L923.0,634.8 L924.0,635.0 L925.0,634.8 L926.0,634.9 L927.0,634.7 L928.0,634.8 L929.0,634.6 L930.0,634.9 L931.0,634.4 L932.0,634.9 L933.0,634.8 L934.0,634.7 L935.0,634.6 L936.0,634.8 L937.0,634.9 L938.0,634.9 L939.0,635.2 L940.0,635.0 L941.0,634.6 L942.0,635.0 L943.0,634.8 L944.0,634.9 L945.0,635.0 L946.0,634.7 L947.0,634.8 L948.0,634.7 L949.0,634.8 L950.0,634.7 L951.0,634.9 L952.0,634.9 L953.0,634.9 L954.0,634.9 L955.0,634.9 L956.0,634.8 L957.0,634.8 L958.0,634.9 L959.0,635.0 L960.0,635.0 L961.0,635.0 L962.0,634.8 L963.0,634.9 L964.0,634.8 L965.0,634.7 L966.0,634.8 L967.0,635.0 L968.0,635.1 L969.0,634.9 L970.0,634.7 L971.0,634.8 L972.0,634.4 L973.0,634.6 L974.0,634.7 L975.0,634.9 L976.0,634.9 L977.0,634.9 L977.5,634.9" fill="none" stroke="#000" stroke-width="3.5" stroke-linejoin="round" stroke-linecap="butt"/>
  <!-- spectrum A -->
  <path d="M105.5,857.8 L106.5,857.8 L107.5,858.0 L108.5,857.8 L109.5,857.9 L110.5,857.7 L111.5,857.6 L112.5,858.0 L113.5,858.1 L114.5,857.8 L115.5,857.8 L116.5,858.0 L117.5,858.1 L118.5,857.6 L119.5,857.6 L120.5,857.7 L121.5,858.0 L122.5,858.1 L123.5,857.5 L124.5,857.7 L125.5,857.6 L126.5,857.8 L127.5,857.9 L128.5,857.8 L129.5,857.7 L130.5,858.0 L131.5,857.7 L132.5,858.0 L133.5,858.1 L134.5,857.9 L135.5,857.7 L136.5,857.5 L137.5,857.7 L138.5,857.7 L139.5,858.0 L140.5,857.6 L141.5,857.9 L142.5,857.9 L143.5,857.5 L144.5,857.5 L145.5,857.7 L146.5,857.8 L147.5,857.7 L148.5,857.6 L149.5,857.9 L150.5,857.8 L151.5,857.9 L152.5,857.7 L153.5,857.6 L154.5,857.7 L155.5,857.7 L156.5,857.7 L157.5,857.9 L158.5,857.9 L159.5,857.7 L160.5,857.9 L161.5,857.7 L162.5,857.7 L163.5,857.6 L164.5,857.7 L165.5,857.9 L166.5,857.9 L167.5,858.1 L168.5,858.1 L169.5,858.0 L170.5,857.8 L171.5,858.1 L172.5,858.0 L173.5,858.0 L174.5,858.0 L175.5,858.1 L176.5,857.6 L177.5,857.6 L178.5,857.7 L179.5,857.6 L180.5,857.7 L181.5,857.8 L182.5,857.7 L183.5,857.9 L184.5,858.0 L185.5,857.8 L186.5,857.8 L187.5,857.8 L188.5,857.7 L189.5,857.8 L190.5,857.7 L191.5,857.6 L192.5,858.1 L193.5,857.8 L194.5,857.7 L195.5,857.8 L196.5,858.0 L197.5,857.8 L198.5,857.8 L199.5,857.8 L200.5,857.9 L201.5,858.1 L202.5,857.7 L203.5,857.7 L204.5,857.9 L205.5,857.9 L206.5,857.8 L207.5,857.9 L208.5,857.9 L209.5,857.7 L210.5,857.6 L211.5,857.9 L212.5,857.8 L213.5,857.8 L214.5,857.7 L215.5,857.8 L216.5,857.7 L217.5,857.5 L218.5,857.8 L219.5,857.8 L220.5,858.0 L221.5,857.7 L222.5,857.8 L223.5,857.8 L224.5,858.0 L225.5,857.9 L226.5,857.7 L227.5,857.7 L228.5,857.9 L229.5,857.6 L230.5,857.7 L231.5,857.8 L232.5,857.7 L233.5,857.8 L234.5,857.7 L235.5,857.6 L236.5,857.8 L237.5,857.7 L238.5,858.0 L239.5,857.9 L240.5,858.2 L241.5,857.9 L242.5,857.7 L243.5,858.0 L244.5,857.8 L245.5,857.7 L246.5,857.8 L247.5,857.6 L248.5,857.5 L249.5,857.7 L250.5,857.9 L251.5,857.8 L252.5,857.7 L253.5,857.7 L254.5,858.1 L255.5,857.9 L256.5,857.7 L257.5,857.7 L258.5,857.7 L259.5,857.8 L260.5,857.8 L261.5,858.0 L262.5,857.9 L263.5,857.7 L264.5,857.8 L265.5,857.9 L266.5,858.0 L267.5,858.0 L268.5,858.0 L269.5,857.7 L270.5,857.9 L271.5,858.1 L272.5,857.9 L273.5,857.6 L274.5,857.5 L275.5,857.4 L276.5,858.1 L277.5,858.0 L278.5,858.0 L279.5,857.9 L280.5,857.7 L281.5,857.8 L282.5,857.9 L283.5,857.8 L284.5,858.1 L285.5,858.0 L286.5,857.6 L287.5,858.0 L288.5,857.8 L289.5,857.7 L290.5,857.8 L291.5,858.2 L292.5,858.2 L293.5,857.8 L294.5,857.8 L295.5,857.7 L296.5,857.9 L297.5,857.6 L298.5,857.1 L299.5,856.8 L300.5,857.0 L301.5,857.3 L302.5,857.6 L303.5,857.6 L304.5,857.6 L305.5,857.6 L306.5,858.0 L307.5,857.6 L308.5,857.5 L309.5,857.4 L310.5,856.8 L311.5,856.7 L312.5,857.2 L313.5,857.5 L314.5,857.7 L315.5,857.6 L316.5,857.6 L317.5,857.7 L318.5,857.5 L319.5,857.4 L320.5,856.7 L321.5,856.4 L322.5,856.5 L323.5,856.8 L324.5,857.7 L325.5,857.8 L326.5,857.8 L327.5,857.6 L328.5,857.9 L329.5,857.7 L330.5,857.7 L331.5,857.4 L332.5,856.9 L333.5,857.1 L334.5,857.3 L335.5,857.5 L336.5,857.7 L337.5,857.6 L338.5,857.8 L339.5,857.8 L340.5,857.6 L341.5,857.7 L342.5,857.9 L343.5,857.9 L344.5,857.8 L345.5,857.7 L346.5,857.9 L347.5,857.7 L348.5,857.8 L349.5,857.8 L350.5,857.9 L351.5,857.9 L352.5,857.9 L353.5,857.7 L354.5,857.8 L355.5,858.2 L356.5,858.0 L357.5,857.8 L358.5,858.1 L359.5,858.0 L360.5,857.7 L361.5,857.9 L362.5,857.5 L363.5,857.7 L364.5,857.7 L365.5,857.8 L366.5,858.0 L367.5,857.9 L368.5,857.8 L369.5,857.9 L370.5,857.8 L371.5,858.0 L372.5,857.9 L373.5,857.8 L374.5,857.7 L375.5,857.9 L376.5,858.0 L377.5,857.8 L378.5,858.1 L379.5,857.8 L380.5,857.8 L381.5,857.8 L382.5,857.5 L383.5,857.6 L384.5,857.7 L385.5,857.7 L386.5,857.7 L387.5,857.8 L388.5,857.6 L389.5,857.9 L390.5,857.7 L391.5,857.5 L392.5,857.7 L393.5,857.6 L394.5,857.6 L395.5,857.7 L396.5,857.8 L397.5,857.9 L398.5,857.6 L399.5,857.7 L400.5,858.1 L401.5,858.2 L402.5,857.8 L403.5,857.5 L404.5,857.6 L405.5,857.6 L406.5,857.7 L407.5,857.8 L408.5,857.8 L409.5,857.7 L410.5,857.7 L411.5,857.9 L412.5,857.7 L413.5,857.9 L414.5,857.7 L415.5,857.7 L416.5,857.7 L417.5,857.9 L418.5,858.0 L419.5,857.7 L420.5,857.7 L421.5,858.0 L422.5,857.7 L423.5,857.7 L424.5,857.8 L425.5,857.7 L426.5,857.7 L427.5,857.6 L428.5,857.7 L429.5,858.0 L430.5,857.9 L431.5,857.7 L432.5,857.9 L433.5,857.8 L434.5,858.1 L435.5,857.8 L436.5,857.8 L437.5,858.0 L438.5,857.9 L439.5,857.8 L440.5,857.9 L441.5,857.8 L442.5,858.2 L443.5,857.7 L444.5,857.8 L445.5,857.9 L446.5,857.9 L447.5,857.9 L448.5,858.0 L449.5,857.9 L450.5,857.7 L451.5,857.8 L452.5,857.7 L453.5,857.6 L454.5,857.7 L455.0,857.8 L455.2,857.8 L455.5,857.8 L455.8,857.7 L456.0,857.5 L456.2,857.5 L456.5,857.4 L456.8,857.4 L457.0,857.5 L457.2,857.6 L457.5,857.7 L457.8,857.8 L458.0,857.9 L458.2,857.9 L458.5,858.0 L458.8,857.9 L459.0,857.8 L459.2,857.8 L459.5,857.8 L459.8,857.9 L460.0,858.0 L460.2,858.0 L460.5,858.1 L460.8,858.1 L461.0,858.0 L461.2,857.9 L461.5,857.8 L461.8,857.7 L462.0,857.6 L462.2,857.6 L462.5,857.5 L462.8,857.3 L463.0,857.1 L463.2,856.8 L463.5,856.3 L463.8,855.9 L464.0,855.3 L464.2,854.6 L464.5,853.7 L464.8,852.4 L465.0,850.9 L465.2,848.9 L465.5,846.7 L465.8,844.2 L466.0,841.6 L466.2,839.0 L466.5,836.6 L466.8,834.5 L467.0,832.8 L467.2,831.8 L467.5,831.4 L467.8,831.8 L468.0,832.8 L468.2,834.3 L468.5,836.1 L468.8,838.2 L469.0,840.4 L469.2,842.6 L469.5,844.8 L469.8,846.8 L470.0,848.6 L470.2,850.1 L470.5,851.4 L470.8,852.4 L471.0,853.2 L471.2,854.0 L471.5,854.6 L471.8,855.1 L472.0,855.5 L472.2,855.7 L472.5,855.7 L472.8,855.6 L473.0,855.4 L473.2,855.2 L473.5,854.8 L473.8,854.4 L474.0,853.8 L474.2,852.8 L474.5,851.4 L474.8,849.4 L475.0,846.7 L475.2,843.4 L475.5,839.2 L475.8,834.1 L476.0,827.8 L476.2,820.3 L476.5,811.9 L476.8,802.5 L477.0,792.7 L477.2,782.9 L477.5,773.8 L477.8,766.0 L478.0,760.2 L478.2,756.6 L478.5,755.8 L478.8,757.3 L479.0,761.2 L479.2,767.0 L479.5,774.3 L479.8,782.7 L480.0,791.5 L480.2,800.2 L480.5,808.4 L480.8,815.9 L481.0,822.5 L481.2,828.1 L481.5,832.9 L481.8,836.8 L482.0,840.0 L482.2,842.5 L482.5,844.5 L482.8,846.2 L483.0,847.5 L483.2,848.7 L483.5,849.6 L483.8,850.2 L484.0,850.6 L484.2,850.6 L484.5,850.3 L484.8,849.5 L485.0,848.2 L485.2,846.2 L485.5,843.5 L485.8,839.9 L486.0,835.0 L486.2,828.6 L486.5,820.5 L486.8,810.5 L487.0,798.3 L487.2,783.9 L487.5,767.7 L487.8,750.1 L488.0,731.8 L488.2,713.9 L488.5,697.4 L488.8,683.3 L489.0,673.0 L489.2,667.1 L489.5,666.2 L489.8,670.0 L490.0,678.0 L490.2,689.5 L490.5,703.7 L490.8,719.5 L491.0,735.9 L491.2,752.1 L491.5,767.3 L491.8,781.1 L492.0,793.2 L492.2,803.5 L492.5,812.1 L492.8,819.2 L493.0,824.9 L493.2,829.6 L493.5,833.5 L493.8,836.6 L494.0,839.1 L494.2,841.1 L494.5,842.7 L494.8,843.9 L495.0,844.7 L495.2,845.1 L495.5,845.0 L495.8,844.5 L496.0,843.4 L496.2,841.6 L496.5,838.8 L496.8,834.9 L497.0,829.5 L497.2,822.5 L497.5,813.5 L497.8,802.3 L498.0,788.9 L498.2,773.2 L498.5,755.6 L498.8,736.6 L499.0,717.0 L499.2,697.9 L499.5,680.4 L499.8,666.0 L500.0,655.7 L500.2,650.3 L500.5,650.3 L500.8,655.2 L501.0,664.5 L501.2,677.4 L501.5,692.9 L501.8,710.1 L502.0,727.8 L502.2,745.2 L502.5,761.3 L502.8,775.9 L503.0,788.6 L503.2,799.4 L503.5,808.5 L503.8,815.9 L504.0,821.9 L504.2,826.8 L504.5,830.9 L504.8,834.2 L505.0,836.9 L505.2,839.2 L505.5,840.9 L505.8,842.3 L506.0,843.3 L506.2,843.8 L506.5,844.0 L506.8,843.6 L507.0,842.8 L507.2,841.2 L507.5,838.8 L507.8,835.4 L508.0,830.7 L508.2,824.6 L508.5,816.8 L508.8,807.2 L509.0,795.7 L509.2,782.4 L509.5,767.5 L509.8,751.5 L510.0,735.1 L510.2,719.3 L510.5,705.0 L510.8,693.4 L511.0,685.4 L511.2,681.6 L511.5,682.3 L511.8,687.0 L512.0,695.4 L512.2,706.7 L512.5,720.0 L512.8,734.6 L513.0,749.5 L513.2,764.0 L513.5,777.5 L513.8,789.6 L514.0,800.1 L514.2,809.0 L514.5,816.4 L514.8,822.4 L515.0,827.3 L515.2,831.3 L515.5,834.6 L515.8,837.3 L516.0,839.6 L516.2,841.4 L516.5,843.0 L516.8,844.2 L517.0,845.1 L517.2,845.6 L517.5,845.8 L517.8,845.7 L518.0,845.1 L518.2,844.2 L518.5,842.6 L518.8,840.3 L519.0,837.2 L519.2,833.0 L519.5,827.6 L519.8,821.1 L520.0,813.4 L520.2,804.4 L520.5,794.5 L520.8,783.8 L521.0,773.0 L521.2,762.7 L521.5,753.5 L521.8,746.2 L522.0,741.2 L522.2,739.1 L522.5,739.9 L522.8,743.5 L523.0,749.5 L523.2,757.4 L523.5,766.6 L523.8,776.4 L524.0,786.2 L524.2,795.7 L524.5,804.4 L524.8,812.2 L525.0,819.1 L525.2,824.8 L525.5,829.5 L525.8,833.4 L526.0,836.6 L526.2,839.3 L526.5,841.5 L526.8,843.3 L527.0,844.8 L527.2,846.1 L527.5,847.2 L527.8,848.0 L528.0,848.7 L528.2,849.0 L528.5,849.2 L528.8,849.1 L529.0,848.8 L529.2,848.1 L529.5,847.1 L529.8,845.8 L530.0,843.9 L530.2,841.6 L530.5,838.7 L530.8,835.0 L531.0,830.6 L531.2,825.5 L531.5,819.8 L531.8,813.8 L532.0,807.7 L532.2,802.0 L532.5,797.0 L532.8,793.3 L533.0,790.9 L533.2,790.1 L533.5,791.0 L533.8,793.2 L534.0,796.8 L534.2,801.2 L534.5,806.3 L534.8,811.9 L535.0,817.4 L535.2,822.8 L535.5,827.7 L535.8,832.0 L536.0,835.8 L536.2,839.0 L536.5,841.6 L536.8,843.7 L537.0,845.5 L537.2,846.9 L537.5,848.1 L537.8,849.0 L538.0,849.8 L538.2,850.4 L538.5,850.9 L538.8,851.4 L539.0,851.8 L539.2,852.1 L539.5,852.3 L539.8,852.3 L540.0,852.2 L540.2,851.9 L540.5,851.4 L540.8,850.8 L541.0,849.9 L541.2,848.8 L541.5,847.4 L541.8,845.6 L542.0,843.5 L542.2,841.1 L542.5,838.5 L542.8,835.8 L543.0,833.2 L543.2,830.7 L543.5,828.5 L543.8,826.8 L544.0,825.8 L544.2,825.4 L544.5,825.9 L544.8,827.0 L545.0,828.8 L545.2,831.0 L545.5,833.5 L545.8,836.1 L546.0,838.6 L546.2,841.0 L546.5,843.2 L546.8,845.2 L547.0,846.9 L547.2,848.3 L547.5,849.5 L547.8,850.5 L548.0,851.3 L548.2,852.0 L548.5,852.6 L548.8,853.0 L549.0,853.4 L549.2,853.6 L549.5,853.7 L549.8,854.0 L550.0,854.2 L550.2,854.5 L550.5,854.6 L550.8,854.6 L551.0,854.6 L551.2,854.4 L551.5,854.2 L551.8,853.8 L552.0,853.4 L552.2,852.8 L552.5,852.1 L552.8,851.3 L553.0,850.4 L553.2,849.3 L553.5,848.2 L553.8,846.9 L554.0,845.7 L554.2,844.4 L554.5,843.3 L554.8,842.5 L555.0,842.0 L555.2,841.9 L555.5,842.2 L555.8,842.9 L556.0,843.8 L556.2,844.8 L556.5,846.0 L556.8,847.3 L557.0,848.5 L557.2,849.7 L557.5,850.8 L557.8,851.7 L558.0,852.5 L558.2,853.2 L558.5,853.7 L558.8,854.1 L559.0,854.4 L559.2,854.6 L559.5,854.8 L559.8,855.0 L560.0,855.1 L560.2,855.1 L560.5,855.2 L560.8,855.3 L561.0,855.5 L561.2,855.7 L561.5,855.8 L561.8,856.0 L562.0,856.0 L562.2,856.0 L562.5,856.0 L562.8,855.9 L563.0,855.8 L563.2,855.5 L563.5,855.2 L563.8,854.9 L564.0,854.5 L564.2,854.1 L564.5,853.6 L564.8,853.2 L565.0,852.8 L565.2,852.4 L565.5,852.1 L565.8,851.9 L566.0,851.8 L566.2,851.8 L566.5,851.9 L566.8,852.0 L567.0,852.2 L567.2,852.6 L567.5,853.1 L567.8,853.6 L568.0,854.2 L568.2,854.6 L568.5,855.0 L568.8,855.3 L569.0,855.5 L569.2,855.7 L569.5,855.8 L569.8,855.8 L570.0,855.9 L570.2,855.9 L570.5,856.0 L570.8,856.1 L571.0,856.1 L571.2,856.2 L571.5,856.2 L571.8,856.3 L572.0,856.3 L572.2,856.4 L572.5,856.4 L572.8,856.5 L573.0,856.6 L573.2,856.6 L573.5,856.7 L573.8,856.7 L574.0,856.7 L574.2,856.5 L574.5,856.3 L574.8,856.1 L575.0,855.8 L575.2,855.7 L575.5,855.6 L575.8,855.4 L576.0,855.2 L576.2,855.0 L576.5,854.8 L576.8,854.7 L577.0,854.7 L577.2,854.7 L577.5,854.8 L577.8,854.8 L578.0,854.9 L578.2,855.1 L578.5,855.2 L578.8,855.5 L579.0,855.7 L579.2,856.0 L579.5,856.2 L579.8,856.3 L580.0,856.4 L580.2,856.5 L580.5,856.5 L580.8,856.6 L581.0,856.6 L581.2,856.6 L581.5,856.6 L581.8,856.7 L582.0,856.7 L582.2,856.8 L582.5,856.9 L582.8,856.9 L583.0,857.0 L583.2,857.1 L583.5,857.1 L583.8,857.1 L584.0,857.0 L584.2,857.0 L584.5,857.0 L584.8,857.1 L585.0,857.1 L585.2,857.2 L585.5,857.2 L585.8,857.2 L586.0,857.1 L586.2,857.1 L586.5,857.0 L586.8,857.0 L587.0,856.9 L587.2,856.8 L587.5,856.8 L587.8,856.8 L588.0,856.8 L588.2,856.8 L588.5,856.7 L588.8,856.7 L589.0,856.6 L589.2,856.6 L589.5,856.6 L589.8,856.7 L590.0,856.8 L590.2,856.9 L590.5,857.1 L590.8,857.1 L591.0,857.2 L591.2,857.2 L591.5,857.2 L591.8,857.1 L592.0,857.0 L592.2,856.9 L592.5,856.8 L592.8,856.8 L593.0,856.8 L593.2,856.8 L593.5,856.9 L593.8,857.0 L594.0,857.1 L594.2,857.3 L594.5,857.4 L594.8,857.4 L595.0,857.5 L595.2,857.4 L595.5,857.3 L595.8,857.2 L596.0,857.1 L596.2,857.1 L596.5,857.1 L596.8,857.2 L597.0,857.3 L597.2,857.3 L597.5,857.4 L597.8,857.4 L598.0,857.4 L598.2,857.4 L598.5,857.5 L598.8,857.5 L599.0,857.5 L599.2,857.5 L599.5,857.5 L599.8,857.4 L600.0,857.4 L601.0,857.3 L602.0,857.2 L603.0,857.4 L604.0,857.5 L605.0,857.6 L606.0,857.5 L607.0,857.5 L608.0,857.4 L609.0,857.4 L610.0,857.6 L611.0,857.6 L612.0,857.5 L613.0,857.5 L614.0,857.4 L615.0,857.1 L616.0,857.3 L617.0,857.2 L618.0,857.5 L619.0,857.6 L620.0,857.8 L621.0,857.7 L622.0,857.8 L623.0,857.8 L624.0,857.9 L625.0,857.8 L626.0,857.6 L627.0,857.5 L628.0,857.7 L629.0,857.8 L630.0,857.6 L631.0,857.5 L632.0,857.7 L632.2,857.6 L632.5,857.5 L632.8,857.6 L633.0,857.6 L633.2,857.7 L633.5,857.7 L633.8,857.7 L634.0,857.6 L634.2,857.5 L634.5,857.5 L634.8,857.5 L635.0,857.5 L635.2,857.5 L635.5,857.6 L635.8,857.7 L636.0,857.7 L636.2,857.6 L636.5,857.6 L636.8,857.5 L637.0,857.5 L637.2,857.6 L637.5,857.7 L637.8,857.8 L638.0,857.9 L638.2,857.8 L638.5,857.8 L638.8,857.8 L639.0,857.9 L639.2,857.9 L639.5,857.9 L639.8,857.9 L640.0,857.9 L640.2,857.9 L640.5,857.9 L640.8,857.9 L641.0,857.8 L641.2,857.7 L641.5,857.6 L641.8,857.5 L642.0,857.3 L642.2,857.2 L642.5,857.1 L642.8,857.1 L643.0,857.1 L643.2,857.0 L643.5,857.0 L643.8,857.0 L644.0,856.9 L644.2,856.8 L644.5,856.8 L644.8,856.8 L645.0,856.9 L645.2,857.0 L645.5,857.1 L645.8,857.1 L646.0,857.2 L646.2,857.2 L646.5,857.1 L646.8,857.1 L647.0,857.1 L647.2,857.2 L647.5,857.2 L647.8,857.3 L648.0,857.5 L648.2,857.5 L648.5,857.5 L648.8,857.4 L649.0,857.3 L649.2,857.2 L649.5,857.2 L649.8,857.3 L650.0,857.4 L650.2,857.6 L650.5,857.7 L650.8,857.8 L651.0,857.8 L651.2,857.7 L651.5,857.6 L651.8,857.4 L652.0,857.1 L652.2,856.9 L652.5,856.6 L652.8,856.4 L653.0,856.1 L653.2,855.9 L653.5,855.6 L653.8,855.4 L654.0,855.2 L654.2,855.1 L654.5,855.0 L654.8,855.0 L655.0,855.1 L655.2,855.2 L655.5,855.4 L655.8,855.6 L656.0,855.8 L656.2,856.1 L656.5,856.3 L656.8,856.5 L657.0,856.8 L657.2,856.9 L657.5,857.1 L657.8,857.1 L658.0,857.1 L658.2,857.2 L658.5,857.2 L658.8,857.3 L659.0,857.3 L659.2,857.3 L659.5,857.3 L659.8,857.4 L660.0,857.4 L660.2,857.5 L660.5,857.6 L660.8,857.6 L661.0,857.6 L661.2,857.6 L661.5,857.5 L661.8,857.4 L662.0,857.3 L662.2,857.2 L662.5,857.0 L662.8,856.7 L663.0,856.5 L663.2,856.2 L663.5,855.8 L663.8,855.3 L664.0,854.8 L664.2,854.4 L664.5,853.9 L664.8,853.5 L665.0,853.2 L665.2,853.0 L665.5,852.9 L665.8,853.0 L666.0,853.3 L666.2,853.6 L666.5,854.0 L666.8,854.4 L667.0,854.8 L667.2,855.1 L667.5,855.4 L667.8,855.6 L668.0,855.8 L668.2,856.1 L668.5,856.3 L668.8,856.6 L669.0,856.8 L669.2,857.0 L669.5,857.1 L669.8,857.1 L670.0,857.1 L670.2,857.1 L670.5,857.2 L670.8,857.2 L671.0,857.3 L671.2,857.3 L671.5,857.3 L671.8,857.2 L672.0,857.2 L672.2,857.1 L672.5,857.0 L672.8,857.0 L673.0,857.0 L673.2,856.9 L673.5,856.8 L673.8,856.5 L674.0,856.2 L674.2,855.8 L674.5,855.3 L674.8,854.9 L675.0,854.4 L675.2,854.0 L675.5,853.6 L675.8,853.2 L676.0,852.9 L676.2,852.7 L676.5,852.6 L676.8,852.7 L677.0,853.0 L677.2,853.4 L677.5,853.9 L677.8,854.4 L678.0,854.9 L678.2,855.3 L678.5,855.7 L678.8,856.0 L679.0,856.3 L679.2,856.5 L679.5,856.7 L679.8,856.8 L680.0,856.9 L680.2,857.0 L680.5,857.0 L680.8,857.1 L681.0,857.2 L681.2,857.3 L681.5,857.4 L681.8,857.4 L682.0,857.4 L682.2,857.3 L682.5,857.3 L682.8,857.3 L683.0,857.3 L683.2,857.3 L683.5,857.3 L683.8,857.2 L684.0,857.1 L684.2,857.0 L684.5,856.8 L684.8,856.6 L685.0,856.4 L685.2,856.2 L685.5,855.9 L685.8,855.5 L686.0,855.0 L686.2,854.5 L686.5,854.1 L686.8,853.7 L687.0,853.4 L687.2,853.3 L687.5,853.3 L687.8,853.3 L688.0,853.5 L688.2,853.7 L688.5,854.0 L688.8,854.3 L689.0,854.7 L689.2,855.0 L689.5,855.4 L689.8,855.7 L690.0,856.1 L690.2,856.2 L690.5,856.4 L690.8,856.5 L691.0,856.6 L691.2,856.8 L691.5,857.0 L691.8,857.2 L692.0,857.3 L692.2,857.3 L692.5,857.3 L692.8,857.4 L693.0,857.4 L693.2,857.5 L693.5,857.5 L693.8,857.5 L694.0,857.5 L694.2,857.5 L694.5,857.4 L694.8,857.4 L695.0,857.3 L695.2,857.1 L695.5,857.0 L695.8,856.9 L696.0,856.7 L696.2,856.4 L696.5,856.2 L696.8,856.0 L697.0,855.7 L697.2,855.4 L697.5,855.2 L697.8,855.0 L698.0,854.8 L698.2,854.7 L698.5,854.7 L698.8,854.7 L699.0,854.7 L699.2,855.0 L699.5,855.3 L699.8,855.6 L700.0,856.0 L700.2,856.2 L700.5,856.5 L700.8,856.7 L701.0,856.8 L701.2,856.9 L701.5,857.0 L701.8,857.1 L702.0,857.2 L702.2,857.2 L702.5,857.3 L702.8,857.3 L703.0,857.4 L703.2,857.4 L703.5,857.5 L703.8,857.4 L704.0,857.4 L704.2,857.4 L704.5,857.4 L704.8,857.4 L705.0,857.5 L705.2,857.5 L705.5,857.4 L705.8,857.3 L706.0,857.2 L706.2,857.1 L706.5,856.9 L706.8,856.8 L707.0,856.7 L707.2,856.6 L707.5,856.6 L707.8,856.4 L708.0,856.3 L708.2,856.2 L708.5,856.1 L708.8,855.9 L709.0,855.8 L709.2,855.7 L709.5,855.6 L709.8,855.6 L710.0,855.6 L710.2,855.7 L710.5,855.9 L710.8,856.2 L711.0,856.5 L711.2,856.7 L711.5,856.9 L711.8,857.0 L712.0,857.1 L712.2,857.1 L712.5,857.2 L712.8,857.2 L713.0,857.3 L713.2,857.3 L713.5,857.3 L713.8,857.3 L714.0,857.3 L714.2,857.3 L714.5,857.3 L714.8,857.4 L715.0,857.4 L715.2,857.4 L715.5,857.5 L715.8,857.5 L716.0,857.5 L716.2,857.5 L716.5,857.5 L716.8,857.4 L717.0,857.3 L717.2,857.2 L717.5,857.1 L717.8,857.0 L718.0,857.0 L718.2,856.9 L718.5,856.8 L718.8,856.6 L719.0,856.4 L719.2,856.2 L719.5,856.0 L719.8,855.9 L720.0,855.9 L720.2,855.9 L720.5,856.0 L720.8,856.1 L721.0,856.2 L721.2,856.4 L721.5,856.6 L721.8,856.7 L722.0,856.8 L722.2,856.9 L722.5,856.9 L722.8,857.1 L723.0,857.2 L723.2,857.3 L723.5,857.4 L723.8,857.4 L724.0,857.4 L724.2,857.3 L724.5,857.3 L724.8,857.3 L725.0,857.3 L725.2,857.4 L725.5,857.5 L725.8,857.6 L726.0,857.6 L726.2,857.5 L726.5,857.5 L726.8,857.5 L727.0,857.5 L727.2,857.6 L727.5,857.6 L727.8,857.6 L728.0,857.5 L728.2,857.5 L728.5,857.4 L728.8,857.4 L729.0,857.4 L729.2,857.2 L729.5,857.1 L729.8,856.9 L730.0,856.6 L730.2,856.5 L730.5,856.4 L730.8,856.3 L731.0,856.4 L731.2,856.4 L731.5,856.5 L731.8,856.6 L732.0,856.7 L732.2,856.7 L732.5,856.8 L732.8,856.9 L733.0,857.0 L733.2,857.2 L733.5,857.4 L733.8,857.4 L734.0,857.5 L734.2,857.5 L734.5,857.6 L734.8,857.6 L735.0,857.7 L735.2,857.7 L735.5,857.7 L735.8,857.7 L736.0,857.7 L736.2,857.8 L736.5,857.8 L736.8,857.8 L737.0,857.8 L737.2,857.7 L737.5,857.6 L737.8,857.6 L738.0,857.6 L738.2,857.6 L738.5,857.6 L738.8,857.5 L739.0,857.4 L739.2,857.3 L739.5,857.2 L739.8,857.1 L740.0,857.0 L740.2,856.9 L740.5,856.8 L740.8,856.7 L741.0,856.7 L741.2,856.7 L741.5,856.7 L741.8,856.7 L742.0,856.8 L742.2,856.9 L742.5,856.9 L742.8,856.9 L743.0,857.0 L743.2,857.0 L743.5,857.0 L743.8,857.1 L744.0,857.1 L744.2,857.3 L744.5,857.5 L744.8,857.6 L745.0,857.7 L745.2,857.7 L745.5,857.8 L745.8,857.8 L746.0,857.7 L746.2,857.6 L746.5,857.5 L746.8,857.4 L747.0,857.4 L747.2,857.4 L747.5,857.3 L747.8,857.4 L748.0,857.5 L748.2,857.6 L748.5,857.8 L748.8,857.8 L749.0,857.8 L749.2,857.7 L749.5,857.5 L749.8,857.6 L750.0,857.6 L750.2,857.6 L750.5,857.6 L750.8,857.5 L751.0,857.4 L751.2,857.3 L751.5,857.3 L751.8,857.2 L752.0,857.2 L752.2,857.1 L752.5,857.1 L752.8,857.0 L753.0,857.0 L753.2,856.9 L753.5,856.9 L753.8,856.9 L754.0,857.0 L754.2,857.1 L754.5,857.2 L754.8,857.3 L755.0,857.3 L755.2,857.3 L755.5,857.3 L755.8,857.4 L756.0,857.4 L756.2,857.4 L756.5,857.4 L756.8,857.5 L757.0,857.6 L757.2,857.7 L757.5,857.7 L757.8,857.7 L758.0,857.7 L758.2,857.7 L758.5,857.7 L758.8,857.7 L759.0,857.8 L759.2,857.8 L759.5,857.8 L759.8,857.8 L760.0,857.8 L760.2,857.7 L760.5,857.6 L760.8,857.6 L761.0,857.6 L761.2,857.7 L761.5,857.7 L761.8,857.7 L762.0,857.7 L762.2,857.6 L762.5,857.5 L762.8,857.4 L763.0,857.3 L763.2,857.3 L763.5,857.3 L763.8,857.3 L764.0,857.4 L764.2,857.3 L764.5,857.3 L764.8,857.1 L765.0,857.0 L765.2,857.0 L765.5,857.0 L765.8,857.1 L766.0,857.2 L766.2,857.4 L766.5,857.5 L766.8,857.5 L767.0,857.5 L767.2,857.5 L767.5,857.5 L767.8,857.6 L768.0,857.7 L768.2,857.8 L768.5,857.8 L768.8,857.9 L769.0,857.9 L769.2,857.9 L769.5,857.8 L769.8,857.7 L770.0,857.6 L770.2,857.6 L770.5,857.5 L770.8,857.5 L771.0,857.5 L771.2,857.5 L771.5,857.5 L771.8,857.4 L772.0,857.4 L772.2,857.4 L772.5,857.4 L772.8,857.4 L773.0,857.5 L773.2,857.5 L773.5,857.6 L773.8,857.5 L774.0,857.5 L774.2,857.4 L774.5,857.4 L774.8,857.4 L775.0,857.5 L775.2,857.5 L775.5,857.6 L775.8,857.6 L776.0,857.6 L776.2,857.5 L776.5,857.5 L776.8,857.4 L777.0,857.4 L777.2,857.4 L777.5,857.5 L777.8,857.6 L778.0,857.7 L778.2,857.8 L778.5,857.9 L778.8,857.9 L779.0,857.9 L779.2,857.9 L779.5,857.9 L779.8,857.8 L780.0,857.8 L780.2,857.7 L780.5,857.7 L780.8,857.8 L781.0,857.8 L781.2,857.9 L781.5,858.0 L781.8,858.0 L782.0,857.9 L782.2,857.8 L782.5,857.7 L782.8,857.7 L783.0,857.7 L783.2,857.7 L783.5,857.7 L783.8,857.7 L784.0,857.7 L784.2,857.7 L784.5,857.8 L784.8,857.8 L785.0,857.9 L785.2,857.9 L785.5,857.9 L785.8,857.9 L786.0,857.9 L786.2,857.8 L786.5,857.8 L786.8,857.8 L787.0,857.8 L787.2,857.8 L787.5,857.8 L787.8,857.9 L788.0,857.9 L788.2,857.9 L788.5,857.9 L788.8,857.9 L789.0,858.0 L789.2,857.9 L789.5,857.9 L789.8,858.0 L790.0,858.0 L791.0,858.0 L792.0,858.0 L793.0,857.7 L794.0,857.6 L795.0,857.9 L796.0,857.7 L797.0,857.6 L798.0,858.0 L799.0,857.9 L800.0,857.6 L801.0,857.9 L802.0,857.7 L803.0,857.3 L804.0,857.6 L805.0,857.5 L806.0,857.6 L807.0,857.9 L808.0,857.9 L809.0,857.6 L810.0,857.6 L811.0,857.6 L812.0,857.6 L813.0,858.0 L814.0,857.8 L815.0,857.2 L816.0,857.8 L817.0,857.7 L818.0,857.5 L819.0,858.0 L820.0,858.3 L821.0,857.8 L822.0,857.8 L823.0,857.6 L824.0,857.7 L825.0,857.7 L826.0,857.8 L827.0,857.8 L828.0,857.6 L829.0,857.4 L830.0,857.3 L831.0,857.6 L832.0,857.5 L833.0,857.9 L834.0,857.8 L835.0,857.6 L836.0,858.0 L837.0,857.6 L838.0,857.7 L839.0,857.6 L840.0,858.0 L841.0,858.0 L842.0,857.9 L843.0,857.7 L844.0,857.7 L845.0,857.8 L846.0,857.7 L847.0,857.8 L848.0,857.7 L849.0,857.5 L850.0,857.8 L851.0,858.0 L852.0,857.8 L853.0,858.0 L854.0,857.7 L855.0,857.8 L856.0,857.9 L857.0,858.1 L858.0,857.9 L859.0,858.0 L860.0,858.0 L861.0,858.0 L862.0,857.7 L863.0,857.8 L864.0,857.7 L865.0,857.9 L866.0,857.8 L867.0,857.8 L868.0,857.7 L869.0,857.9 L870.0,858.0 L871.0,857.8 L872.0,857.6 L873.0,857.8 L874.0,857.7 L875.0,857.7 L876.0,857.9 L877.0,857.9 L878.0,858.0 L879.0,858.1 L880.0,857.8 L881.0,857.8 L882.0,857.6 L883.0,857.5 L884.0,857.5 L885.0,857.8 L886.0,857.7 L887.0,857.7 L888.0,857.7 L889.0,857.7 L890.0,858.0 L891.0,858.0 L892.0,857.3 L893.0,857.7 L894.0,857.6 L895.0,857.8 L896.0,857.7 L897.0,858.1 L898.0,858.0 L899.0,857.8 L900.0,857.7 L901.0,857.7 L902.0,857.8 L903.0,857.3 L904.0,857.6 L905.0,857.8 L906.0,857.7 L907.0,858.0 L908.0,857.9 L909.0,857.4 L910.0,857.8 L911.0,858.0 L912.0,858.0 L913.0,857.8 L914.0,857.7 L915.0,857.5 L916.0,857.8 L917.0,857.9 L918.0,857.9 L919.0,857.7 L920.0,857.7 L921.0,857.8 L922.0,857.8 L923.0,858.1 L924.0,857.9 L925.0,857.7 L926.0,857.7 L927.0,857.9 L928.0,858.2 L929.0,858.0 L930.0,857.7 L931.0,858.0 L932.0,858.1 L933.0,857.8 L934.0,857.8 L935.0,857.7 L936.0,857.8 L937.0,857.9 L938.0,857.5 L939.0,857.7 L940.0,857.8 L941.0,857.8 L942.0,857.5 L943.0,857.6 L944.0,857.9 L945.0,857.7 L946.0,857.7 L947.0,857.6 L948.0,857.8 L949.0,857.7 L950.0,857.8 L951.0,857.9 L952.0,858.2 L953.0,857.7 L954.0,857.8 L955.0,857.9 L956.0,857.9 L957.0,857.9 L958.0,858.2 L959.0,857.8 L960.0,858.0 L961.0,858.0 L962.0,857.7 L963.0,857.8 L964.0,857.7 L965.0,857.7 L966.0,858.0 L967.0,857.7 L968.0,858.0 L969.0,857.8 L970.0,857.8 L971.0,857.7 L972.0,857.8 L973.0,857.9 L974.0,858.0 L975.0,857.9 L976.0,858.0 L977.0,858.0 L977.5,858.0" fill="none" stroke="#000" stroke-width="3.5" stroke-linejoin="round" stroke-linecap="butt"/>

  <!-- labels -->
  <text class="big" transform="translate(103.8 952.0) scale(1 1.04)" text-anchor="middle">1375</text>
  <text class="big" transform="translate(322.9 952.0) scale(1 1.04)" text-anchor="middle">1380</text>
  <text class="big" transform="translate(541.6 952.0) scale(1 1.04)" text-anchor="middle">1385</text>
  <text class="big" transform="translate(760.6 952.0) scale(1 1.04)" text-anchor="middle">1390</text>
  <text class="big" transform="translate(980.8 952.0) scale(1 1.04)" text-anchor="middle">1395</text>
  <text class="big" transform="translate(541.2 1012.5) scale(1 1.04)" text-anchor="middle"><tspan class="it">m/z</tspan>, amu</text>
  <text class="big" transform="translate(43.4 614.5) rotate(-90) scale(1.012 1.04)">Intensity, counts</text>
  <text class="big" transform="translate(116.5 599.0) scale(1 1.04)">B<tspan dx="1.7">)</tspan></text>
  <text class="big" transform="translate(119.3 832.3) scale(1 1.04)">A<tspan dx="2.2">)</tspan></text>
  <text class="mid" transform="translate(358.8 550.7)">1383.2</text>
  <text class="mid" transform="translate(609.0 558.7)">1387.2</text>
  <text class="mid" transform="translate(559.5 90.8)" text-anchor="end">0.12</text>
  <text class="mid" transform="translate(559.5 179.9)" text-anchor="end">0.08</text>
  <text class="mid" transform="translate(559.5 269.7)" text-anchor="end">0.04</text>
  <text class="mid" transform="translate(559.5 360.6)" text-anchor="end">0.00</text>
  <text class="mid" transform="translate(590.8 398.6)" text-anchor="middle">400</text>
  <text class="mid" transform="translate(747.0 398.6)" text-anchor="middle">600</text>
  <text class="mid" transform="translate(903.0 398.6)" text-anchor="middle">800</text>
  <text class="lam" transform="translate(702.0 435.8) scale(1.16 0.95)">λ</text>
  <text class="mid" transform="translate(729.0 435.0)">(nm)</text>
  <text class="abs it" transform="translate(482.0 235.7) rotate(-90)">Abs.</text>
</svg>
</body>
</html>
